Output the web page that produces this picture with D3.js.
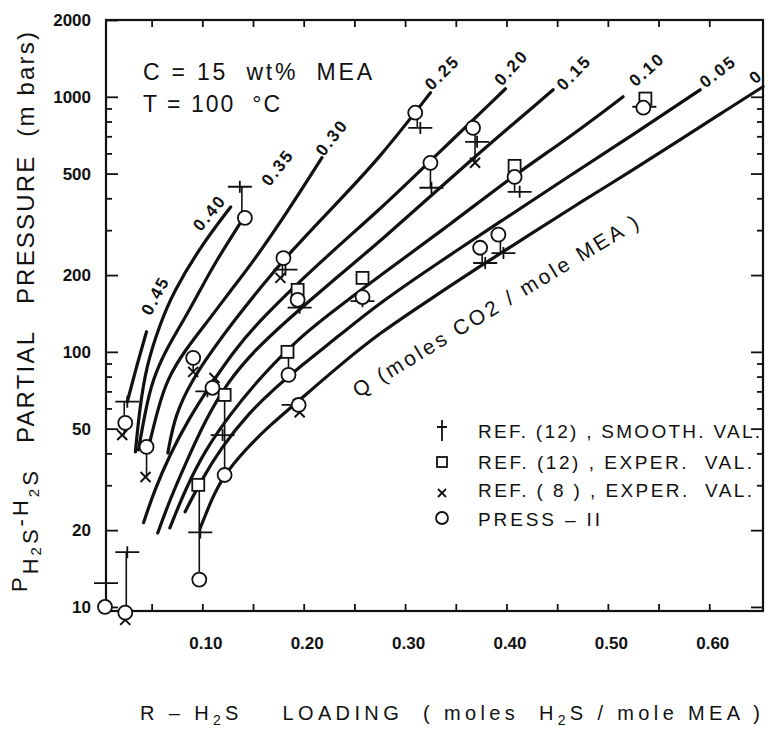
<!DOCTYPE html>
<html>
<head>
<meta charset="utf-8">
<script src="https://cdn.jsdelivr.net/npm/d3@7"></script>
<style>
  html, body { margin: 0; padding: 0; background: #fff; }
  svg { display: block; }
  text { font-family: "Liberation Sans", Arial, sans-serif; fill: #111; white-space: pre; }
</style>
</head>
<body>
<svg id="chart" width="770" height="729"></svg>
<script>
// CO2 loading Q (moles CO2 / mole MEA) of each equilibrium curve
const loadingsQ = ["0.45", "0.40", "0.35", "0.30", "0.25", "0.20", "0.15", "0.10", "0.05", "0"];

// Equilibrium curves: [R = H2S loading (mol/mol MEA), P H2S (mbar)]
const curveQ045 = [[0.026, 63.7], [0.035, 87.3], [0.045, 120]];
const curveQ040 = [[0.034, 40.5], [0.038, 59.2], [0.045, 88.9], [0.058, 127.6], [0.071, 170.4], [0.098, 258], [0.128, 370]];
const curveQ035 = [[0.037, 41.3], [0.044, 59.2], [0.051, 77.7], [0.064, 101.8], [0.083, 135.9], [0.098, 175], [0.113, 225], [0.137, 318]];
const curveQ030 = [[0.048, 44.0], [0.056, 59.2], [0.065, 77.7], [0.083, 101.8], [0.108, 135.9], [0.127, 172], [0.150, 225], [0.184, 354], [0.218, 577]];
const curveQ025 = [[0.066, 40.2], [0.073, 56.6], [0.090, 77.7], [0.110, 101.8], [0.132, 133.5], [0.157, 178], [0.187, 247], [0.231, 377], [0.275, 576], [0.325, 1037]];
const curveQ020 = [[0.042, 21.4], [0.053, 28.8], [0.068, 39.5], [0.086, 54.1], [0.108, 74.2], [0.132, 101.8], [0.157, 133.5], [0.216, 225], [0.275, 361], [0.325, 561], [0.399, 1075]];
const curveQ015 = [[0.056, 19.5], [0.068, 26.3], [0.083, 36.1], [0.103, 54.1], [0.125, 76.3], [0.152, 101.8], [0.184, 133.5], [0.226, 186.5], [0.275, 270], [0.357, 531], [0.446, 1065]];
const curveQ010 = [[0.068, 20.4], [0.083, 28.8], [0.103, 41.3], [0.127, 56.6], [0.155, 77.7], [0.196, 114.5], [0.236, 151.5], [0.275, 198.6], [0.344, 315], [0.408, 495], [0.463, 697], [0.515, 1000]];
const curveQ005 = [[0.083, 23.6], [0.098, 30.9], [0.119, 42.4], [0.147, 58.2], [0.172, 72.3], [0.196, 87.3], [0.236, 116.6], [0.275, 155.7], [0.334, 225.4], [0.394, 324], [0.453, 464], [0.522, 697], [0.591, 1065]];
const curveQ000 = [[0.098, 20.4], [0.109, 26.3], [0.120, 32.3], [0.142, 41.3], [0.167, 51.7], [0.196, 64.8], [0.236, 88.9], [0.275, 118.7], [0.325, 161], [0.371, 213], [0.423, 288], [0.472, 384], [0.522, 508], [0.571, 678], [0.611, 858], [0.653, 1095]];

// Measured / reference points: [R, P]
const pressII = [[0.004, 10.0], [0.024, 9.5], [0.024, 52.7], [0.045, 42.4], [0.097, 12.8], [0.091, 94.7], [0.110, 72.3], [0.122, 32.9], [0.185, 81.2], [0.195, 61.9], [0.180, 233], [0.194, 160], [0.142, 335], [0.258, 164], [0.310, 866], [0.325, 551], [0.367, 755], [0.408, 485], [0.535, 906], [0.374, 256], [0.392, 288]];
const refExper12 = [[0.096, 30.1], [0.122, 67.8], [0.184, 100], [0.194, 175], [0.258, 195], [0.408, 536], [0.537, 984]];
const refExper8 = [[0.021, 47.2], [0.044, 32.3], [0.024, 8.9], [0.091, 83.5], [0.112, 79], [0.177, 195], [0.369, 551], [0.196, 58]];
const refSmooth12 = [[0.005, 12.4], [0.026, 16.4], [0.026, 63.8], [0.098, 19.6], [0.120, 47.2], [0.190, 62], [0.182, 210], [0.196, 149], [0.137, 444], [0.315, 755], [0.326, 440], [0.371, 666], [0.413, 424], [0.536, 914], [0.379, 223], [0.397, 244], [0.258, 158], [0.105, 70]];
// Vertical stems joining points at one loading: [R, P from, P to]
const stems = [[0.005, 10, 12.4], [0.025, 9.5, 16.4], [0.023, 47.2, 63.8], [0.045, 32.3, 42.4], [0.097, 12.8, 30.1], [0.122, 32.9, 67.8], [0.139, 335, 444], [0.185, 81.2, 100], [0.091, 83.5, 94.7], [0.369, 551, 755], [0.312, 755, 866], [0.325, 440, 551], [0.408, 424, 485], [0.376, 223, 256], [0.394, 244, 288], [0.179, 195, 233]];

// Axis ticks
const xMinorTicks = [0.05, 0.10, 0.15, 0.20, 0.25, 0.30, 0.35, 0.40, 0.45, 0.50, 0.55, 0.60];
const xLabelTicks = [0.10, 0.20, 0.30, 0.40, 0.50, 0.60];
const yMajorTicks = [10, 20, 50, 100, 200, 500, 1000, 2000];
const yMinorTicks = [30, 40, 60, 70, 80, 90, 300, 400, 600, 700, 800, 900];

const legendItems = ["REF. (12) , SMOOTH. VAL.", "REF. (12) , EXPER.  VAL.", "REF. ( 8 ) , EXPER.  VAL.", "PRESS \u2013 II"];

const curves = [curveQ045, curveQ040, curveQ035, curveQ030, curveQ025, curveQ020, curveQ015, curveQ010, curveQ005, curveQ000];

// ---- layout ----
const plot = { left: 106, right: 763, top: 20, bottom: 611 };
const svg = d3.select("#chart");
svg.append("rect").attr("width", 770).attr("height", 729).attr("fill", "#fff");

const x = d3.scaleLinear().domain([0.005, 0.653]).range([plot.left, plot.right]);
const y = d3.scaleLog().domain([9.64, 2000]).range([plot.bottom, plot.top]);

const ink = "#111";

// frame
svg.append("rect")
  .attr("x", plot.left).attr("y", plot.top)
  .attr("width", plot.right - plot.left).attr("height", plot.bottom - plot.top)
  .attr("fill", "none").attr("stroke", ink).attr("stroke-width", 2.2);

// bottom axis: inward ticks + labels
const xAxisBottom = d3.axisBottom(x).tickValues(xMinorTicks).tickSizeInner(-7).tickSizeOuter(0).tickFormat("");
const gxb = svg.append("g").attr("transform", `translate(0,${plot.bottom})`).call(xAxisBottom);
const xAxisLabels = d3.axisBottom(x).tickValues(xLabelTicks).tickSize(0).tickPadding(26).tickFormat(d3.format(".2f"));
const gxl = svg.append("g").attr("transform", `translate(3,${plot.bottom})`).call(xAxisLabels);
gxl.selectAll("line").remove();
// top axis ticks
const xAxisTop = d3.axisTop(x).tickValues(xMinorTicks).tickSizeInner(-7).tickSizeOuter(0).tickFormat("");
const gxt = svg.append("g").attr("transform", `translate(0,${plot.top})`).call(xAxisTop);

// left axis: major ticks with labels, minor ticks
const yAxisLeft = d3.axisLeft(y).tickValues(yMajorTicks).tickSizeInner(-12).tickSizeOuter(0).tickPadding(15).tickFormat(d3.format("d"));
const gyl = svg.append("g").attr("transform", `translate(${plot.left},0)`).call(yAxisLeft);
const yAxisLeftMinor = d3.axisLeft(y).tickValues(yMinorTicks).tickSizeInner(-6).tickSizeOuter(0).tickFormat("");
const gylm = svg.append("g").attr("transform", `translate(${plot.left},0)`).call(yAxisLeftMinor);
// right axis ticks
const yAxisRight = d3.axisRight(y).tickValues(yMajorTicks.filter(d => d < 2000)).tickSizeInner(-12).tickSizeOuter(0).tickFormat("");
const gyr = svg.append("g").attr("transform", `translate(${plot.right},0)`).call(yAxisRight);
const yAxisRightMinor = d3.axisRight(y).tickValues(yMinorTicks).tickSizeInner(-6).tickSizeOuter(0).tickFormat("");
const gyrm = svg.append("g").attr("transform", `translate(${plot.right},0)`).call(yAxisRightMinor);

[gxb, gxl, gxt, gyl, gylm, gyr, gyrm].forEach(g => {
  g.select(".domain").remove();
  g.selectAll("line").attr("stroke", ink).attr("stroke-width", 1.8);
  g.selectAll("text").attr("font-family", "Liberation Sans, Arial, sans-serif")
    .attr("font-size", 17).attr("font-weight", "bold").attr("fill", ink);
});

// equilibrium curves (B-spline through the read points)
const line = d3.line().x(d => x(d[0])).y(d => y(d[1])).curve(d3.curveBasis);
svg.append("g").selectAll("path").data(curves).join("path")
  .attr("d", line).attr("fill", "none").attr("stroke", ink)
  .attr("stroke-width", 3.2).attr("stroke-linecap", "round");

// curve labels, anchored at the upper end of each curve
const labelPlace = {
  "0.45": [9, -36, -62], "0.40": [-21, 6, -50], "0.35": [38, -56, -52], "0.30": [10, -20, -52],
  "0.25": [12, -20, -45], "0.20": [6, -21, -48], "0.15": [21, -17, -46], "0.10": [24, -27, -42],
  "0.05": [18, -18, -38], "0": [-7, -10, -40]
};
svg.append("g").selectAll("text").data(curves).join("text")
  .attr("transform", (c, i) => {
    const end = c[c.length - 1], p = labelPlace[loadingsQ[i]];
    return `translate(${x(end[0]) + p[0]},${y(end[1]) + p[1]}) rotate(${p[2]})`;
  })
  .attr("text-anchor", "middle").attr("dominant-baseline", "central")
  .attr("font-size", 17).attr("font-weight", "bold").attr("letter-spacing", 2)
  .text((c, i) => loadingsQ[i]);

// stems between related points
svg.append("g").selectAll("line").data(stems).join("line")
  .attr("x1", d => x(d[0])).attr("x2", d => x(d[0]))
  .attr("y1", d => y(d[1])).attr("y2", d => y(d[2]))
  .attr("stroke", ink).attr("stroke-width", 1.6);

// REF (12) smoothed values: crossbars
const gs = svg.append("g").attr("stroke", ink).attr("stroke-width", 1.8);
gs.selectAll("path").data(refSmooth12).join("path")
  .attr("d", d => {
    const cx = x(d[0]), cy = y(d[1]);
    return `M${cx - 12},${cy}H${cx + 12}M${cx},${cy - 6}V${cy + 6}`;
  }).attr("fill", "none");

// REF (8) experimental: crosses
svg.append("g").selectAll("path").data(refExper8).join("path")
  .attr("d", d => {
    const cx = x(d[0]), cy = y(d[1]);
    return `M${cx - 5},${cy - 5}L${cx + 5},${cy + 5}M${cx - 5},${cy + 5}L${cx + 5},${cy - 5}`;
  }).attr("fill", "none").attr("stroke", ink).attr("stroke-width", 2);

// REF (12) experimental: squares
svg.append("g").selectAll("rect").data(refExper12).join("rect")
  .attr("x", d => x(d[0]) - 6).attr("y", d => y(d[1]) - 6)
  .attr("width", 12).attr("height", 12)
  .attr("fill", "#fff").attr("stroke", ink).attr("stroke-width", 1.8);

// PRESS-II: open circles
svg.append("g").selectAll("circle").data(pressII).join("circle")
  .attr("cx", d => x(d[0])).attr("cy", d => y(d[1])).attr("r", 7)
  .attr("fill", "#fff").attr("stroke", ink).attr("stroke-width", 1.8);

// annotations
svg.append("text").attr("x", 143).attr("y", 80).attr("font-size", 23)
  .attr("textLength", 229).attr("lengthAdjust", "spacing").text("C = 15  wt%  MEA");
svg.append("text").attr("x", 143).attr("y", 112).attr("font-size", 23)
  .attr("textLength", 137).attr("lengthAdjust", "spacing").text("T = 100  \u00B0C");

// Q label along the curve family
svg.append("text")
  .attr("transform", `translate(${x(0.389)},${y(151.5)}) rotate(-31.3)`)
  .attr("text-anchor", "middle").attr("dominant-baseline", "central")
  .attr("font-size", 21).attr("textLength", 330).attr("lengthAdjust", "spacing")
  .text("Q (moles CO2 / mole MEA )");

// legend
const legend = svg.append("g");
const lx = 442, rows = [430, 462, 493, 518], textBase = [438, 469, 497, 526], textLen = [282, 274, 274, 122];
legend.append("path").attr("d", `M${lx},${rows[0] - 10}V${rows[0] + 11}M${lx - 5},${rows[0] - 3}H${lx + 5}`)
  .attr("stroke", ink).attr("stroke-width", 1.8).attr("fill", "none");
legend.append("rect").attr("x", lx - 5).attr("y", rows[1] - 5).attr("width", 10).attr("height", 10)
  .attr("fill", "#fff").attr("stroke", ink).attr("stroke-width", 1.8);
legend.append("path").attr("d", `M${lx - 4},${rows[2] - 4}L${lx + 4},${rows[2] + 4}M${lx - 4},${rows[2] + 4}L${lx + 4},${rows[2] - 4}`)
  .attr("stroke", ink).attr("stroke-width", 1.8);
legend.append("circle").attr("cx", lx).attr("cy", rows[3]).attr("r", 6)
  .attr("fill", "#fff").attr("stroke", ink).attr("stroke-width", 1.8);
legend.selectAll("text.item").data(legendItems).join("text").attr("class", "item")
  .attr("x", 478).attr("y", (d, i) => textBase[i]).attr("font-size", 19)
  .attr("textLength", (d, i) => textLen[i]).attr("lengthAdjust", "spacing")
  .text(d => d);

// y axis title (rotated): P with H2S subscript, then the description
const yt1 = svg.append("text").attr("transform", "translate(27,592) rotate(-90)").attr("font-size", 22).attr("letter-spacing", 3);
yt1.append("tspan").text("P");
yt1.append("tspan").attr("dy", 11).text("H");
yt1.append("tspan").attr("dy", 3).attr("font-size", 15).text("2");
yt1.append("tspan").attr("dy", -3).text("S");
yt1.append("tspan").attr("dy", -10).text("-H");
yt1.append("tspan").attr("dy", 11).attr("font-size", 15).text("2");
yt1.append("tspan").attr("dy", -1).text("S");
svg.append("text").attr("transform", "translate(34,443) rotate(-90)").attr("font-size", 24)
  .attr("textLength", 411).attr("lengthAdjust", "spacing")
  .text("PARTIAL   PRESSURE  (m bars)");

// x axis title
const xt = svg.append("text").attr("x", 140).attr("y", 720).attr("font-size", 20)
  .attr("textLength", 620).attr("lengthAdjust", "spacing");
xt.append("tspan").text("R \u2013 H");
xt.append("tspan").attr("dy", 5).attr("font-size", 14).text("2");
xt.append("tspan").attr("dy", -5).text("S    LOADING  ( moles  H");
xt.append("tspan").attr("dy", 5).attr("font-size", 14).text("2");
xt.append("tspan").attr("dy", -5).text("S / mole MEA )");
</script>
</body>
</html>
